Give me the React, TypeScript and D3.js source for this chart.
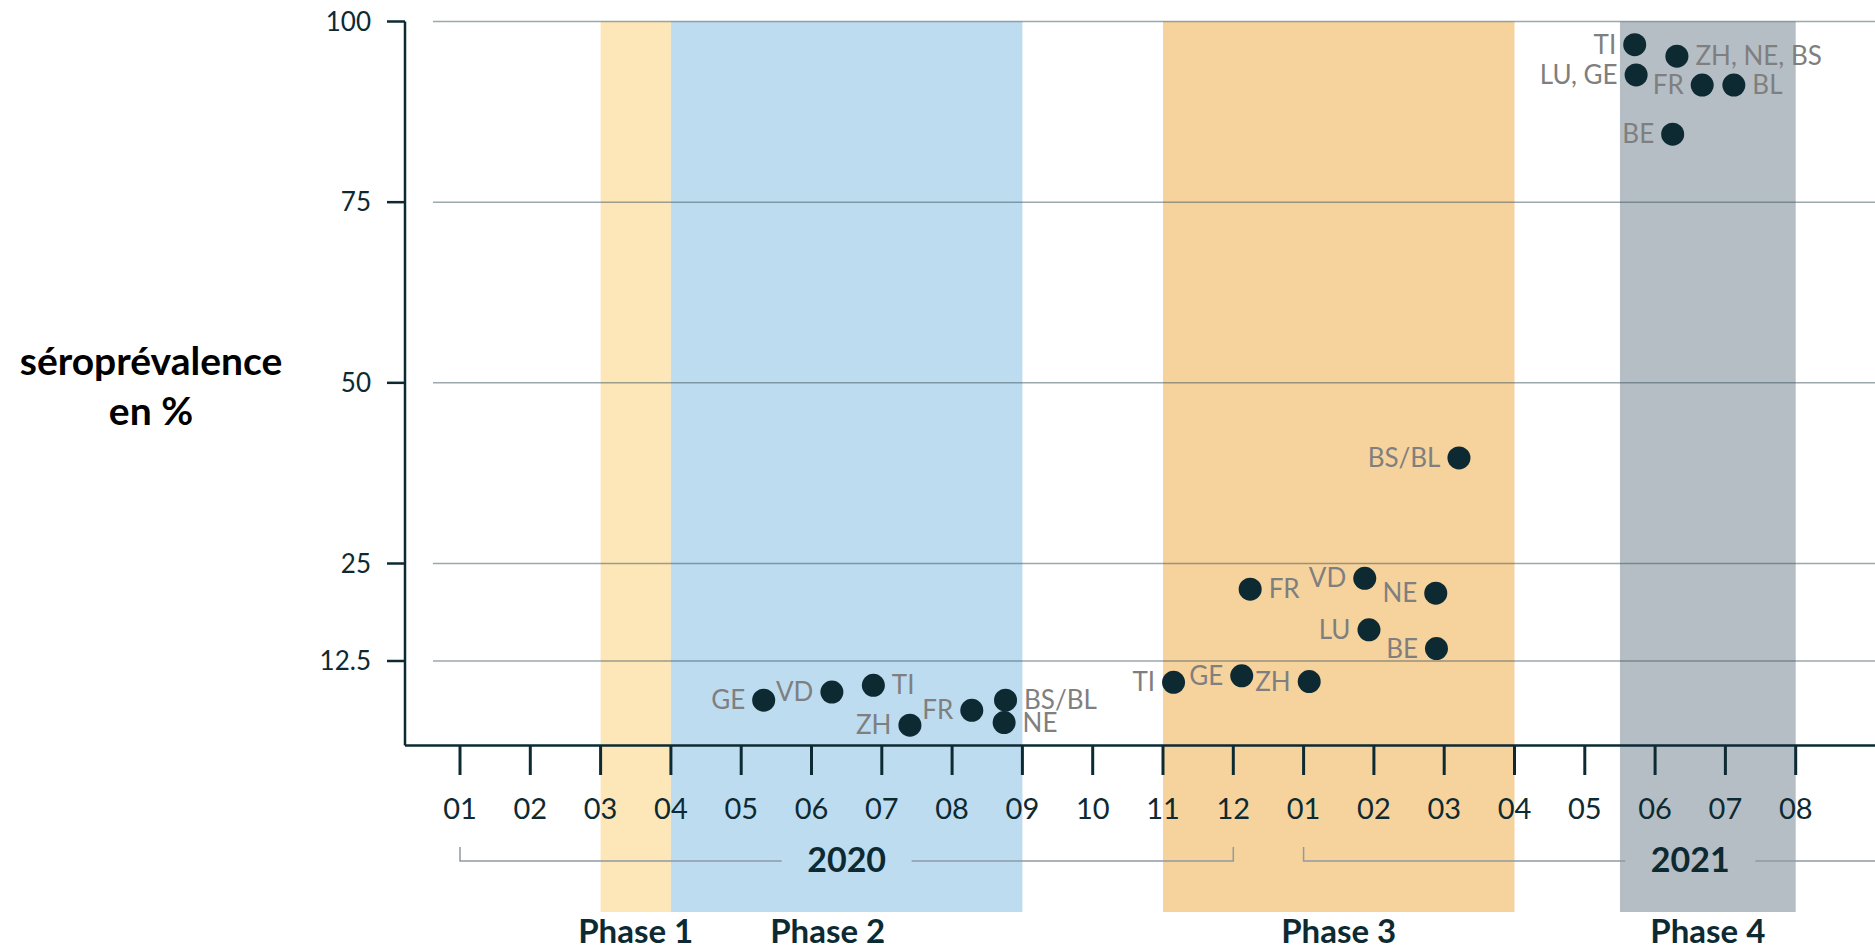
import React from 'react';
import * as d3 from 'd3';

// ---- data ----
const monthLabels = ['01','02','03','04','05','06','07','08','09','10','11','12','01','02','03','04','05','06','07','08'];
const yTicks = [12.5, 25, 50, 75, 100];
const yTickLabels = ['12.5', '25', '50', '75', '100'];

const yearLabels = ['2020', '2021'];
const yearStartMonth = [0, 12];
const yearEndMonth = [11, 23];

const phaseNames = ['Phase 1', 'Phase 2', 'Phase 3', 'Phase 4'];
const phaseStart = [2, 3, 10, 16.5];
const phaseEnd = [3, 8, 15, 19];
const phaseLabelMonth = [2.5, 5.23, 12.5, 17.75];
const phaseColors = ['#fde7b8', '#bedcf0', '#f6d39d', '#b6bec5'];

const pointLabels = ['GE','VD','TI','ZH','FR','BS/BL','NE','TI','GE','ZH','FR','VD','NE','LU','BE','BS/BL','TI','ZH, NE, BS','LU, GE','FR','BL','BE'];
const pointMonth = [4.32,5.29,5.88,6.40,7.28,7.76,7.74,10.15,11.12,12.08,11.24,12.87,13.88,12.93,13.89,14.21,16.71,17.31,16.73,17.67,18.12,17.25];
const pointValue = [6.7,7.9,8.9,3.0,5.2,6.7,3.4,9.35,10.3,9.45,21.7,23.1,21.2,16.5,14.1,39.6,96.8,95.2,92.6,91.2,91.2,84.4];
const labelSide = ['left','left','right','left','left','right','right','left','left','left','right','left','left','left','left','left','left','right','left','left','right','left'];

export default function App() {
  const W = 1875, H = 949;
  const x = d3.scaleLinear().domain([0, 19]).range([460, 460 + 19 * 70.3]);
  const y = d3.scaleLinear().domain([0, 12.5, 25, 100]).range([745.5, 661, 563.5, 21.5]);
  const axisX = 405;
  const axisY = y(0);
  const font = 'Lato, "Open Sans", sans-serif';
  const dark = '#0d2a33';
  const r = 11.5;

  return (
    <svg width={W} height={H} style={{ position: 'fixed', left: 0, top: 0, background: '#fff' }} fontFamily={font}>
      <rect x={0} y={0} width={W} height={H} fill="#fff" />
      {/* phase shading */}
      {phaseNames.map((p, i) => (
        <rect key={p} x={x(phaseStart[i])} y={y(100)} width={x(phaseEnd[i]) - x(phaseStart[i])} height={912 - y(100)} fill={phaseColors[i]} />
      ))}
      {/* gridlines */}
      {yTicks.map((t) => (
        <line key={t} x1={433} x2={W} y1={y(t)} y2={y(t)} stroke="rgba(60,82,92,0.5)" strokeWidth={1.5} />
      ))}
      {/* y axis */}
      <line x1={axisX} x2={axisX} y1={y(100)} y2={axisY} stroke={dark} strokeWidth={2.5} />
      {yTicks.map((t, i) => (
        <g key={t}>
          <line x1={387} x2={axisX} y1={y(t)} y2={y(t)} stroke={dark} strokeWidth={2.5} />
          <text x={371} y={y(t)} dy="0.35em" textAnchor="end" fontSize={26} fill={dark}>{yTickLabels[i]}</text>
        </g>
      ))}
      {/* x axis */}
      <line x1={axisX} x2={W} y1={axisY} y2={axisY} stroke={dark} strokeWidth={2.5} />
      {monthLabels.map((m, i) => (
        <g key={i}>
          <line x1={x(i)} x2={x(i)} y1={axisY} y2={775} stroke={dark} strokeWidth={3} />
          <text x={x(i)} y={819} textAnchor="middle" fontSize={29} fill={dark}>{m}</text>
        </g>
      ))}
      {/* year brackets */}
      {yearLabels.map((yl, i) => {
        const x0 = x(yearStartMonth[i]);
        const x1 = x(yearEndMonth[i]);
        const cx = (x0 + x1) / 2;
        const gap = 65;
        return (
          <g key={yl}>
            <path d={`M${x0},847V861H${cx - gap}`} fill="none" stroke="#8d9ba2" strokeWidth={1.5} />
            <path d={`M${cx + gap},861H${x1}V847`} fill="none" stroke="#8d9ba2" strokeWidth={1.5} />
            <text x={cx} y={872} textAnchor="middle" fontSize={34} fontWeight={700} fill={dark}>{yl}</text>
          </g>
        );
      })}
      {/* phase labels */}
      {phaseNames.map((p, i) => (
        <text key={p} x={x(phaseLabelMonth[i])} y={943} textAnchor="middle" fontSize={33} fontWeight={700} fill={dark}>{p}</text>
      ))}
      {/* y title */}
      <text x={151} y={375} textAnchor="middle" fontSize={39} fontWeight={700} fill="#000">séroprévalence</text>
      <text x={151} y={425} textAnchor="middle" fontSize={39} fontWeight={700} fill="#000">en %</text>
      {/* points */}
      {pointLabels.map((lab, i) => {
        const px = x(pointMonth[i]);
        const py = y(pointValue[i]);
        const left = labelSide[i] === 'left';
        return (
          <g key={i}>
            <circle cx={px} cy={py} r={r} fill={dark} />
            <text x={left ? px - r - 7 : px + r + 7} y={py} dy="0.35em" textAnchor={left ? 'end' : 'start'} fontSize={26} fill="#7f7f7f">{lab}</text>
          </g>
        );
      })}
    </svg>
  );
}
